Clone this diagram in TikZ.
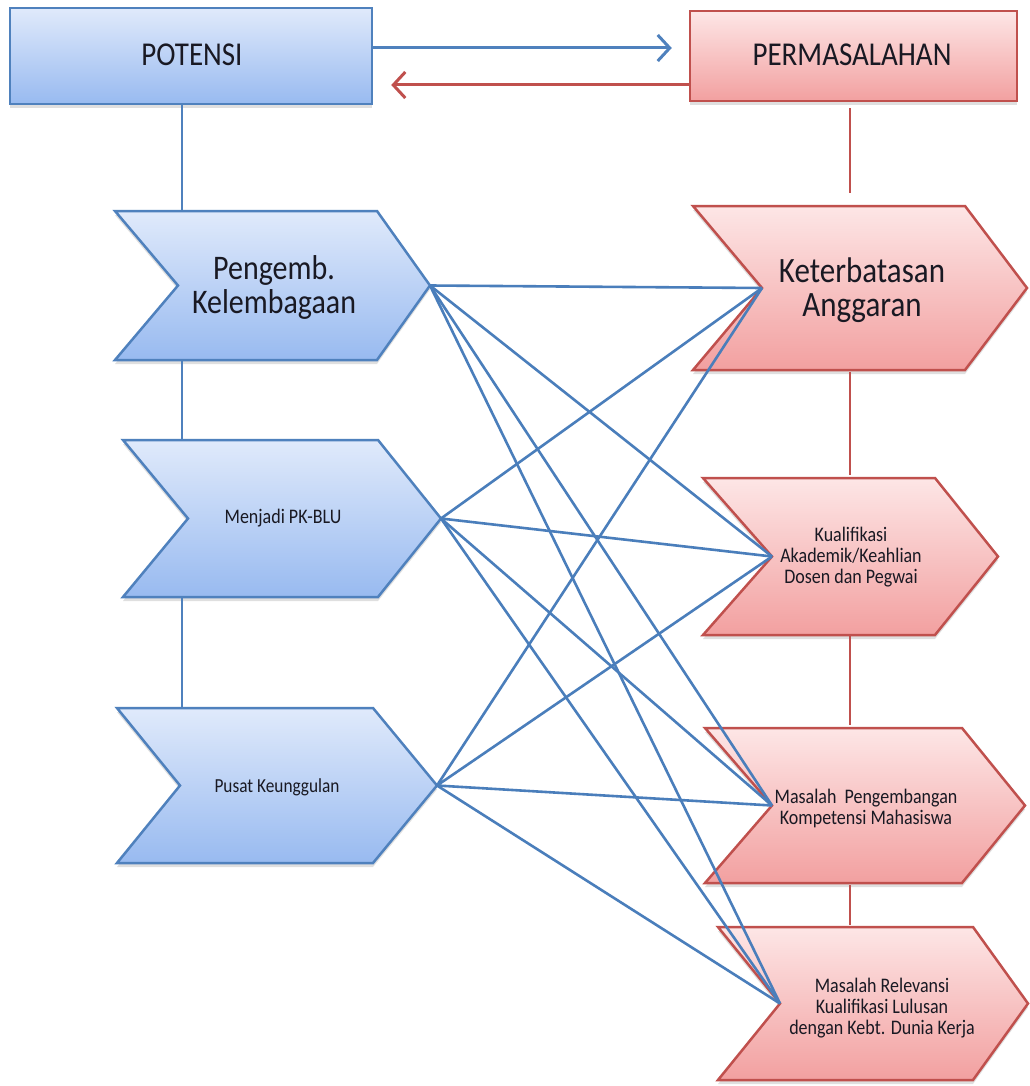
\documentclass[tikz,border=0pt]{standalone}
\usepackage{fontspec}
\setmainfont{Carlito}
\usetikzlibrary{shadows,arrows.meta}
\definecolor{bluebd}{RGB}{79,129,189}
\definecolor{bluetop}{RGB}{224,234,251}
\definecolor{bluebot}{RGB}{152,186,240}
\definecolor{redbd}{RGB}{192,80,77}
\definecolor{redtop}{RGB}{253,230,230}
\definecolor{redbot}{RGB}{242,160,160}
\definecolor{linkblue}{RGB}{74,126,187}
\definecolor{txt}{RGB}{25,25,35}
\newcommand{\tall}[1]{\scalebox{1}[1.15]{#1}}
\tikzset{
  shadowed/.style={drop shadow={shadow xshift=0pt, shadow yshift=-4pt, opacity=0.25}},
  blueshape/.style={draw=bluebd, line width=2.5pt, top color=bluetop, bottom color=bluebot, shadowed},
  redshape/.style={draw=redbd, line width=2.5pt, top color=redtop, bottom color=redbot, shadowed},
  link/.style={draw=linkblue, line width=2.6pt},
  redlink/.style={draw=redbd, line width=2pt},
  bluevert/.style={draw=bluebd, line width=2pt},
  bigtxt/.style={align=center, text=txt, font=\fontsize{30}{34}\selectfont},
  smalltxt/.style={align=center, text=txt, font=\fontsize{18}{21}\selectfont},
  toptxt/.style={align=center, text=txt, font=\fontsize{29}{32}\selectfont},
}
% #1 style, #2 name, #3 left, #4 notch, #5 base, #6 tip, #7 top, #8 bottom
\newcommand{\mychev}[8]{%
  \path[#1] (#3,#7) -- (#5,#7) -- (#6,{(#7+#8)/2}) -- (#5,#8) -- (#3,#8) -- (#4,{(#7+#8)/2}) -- cycle;
  \coordinate (#2-in) at (#4,{(#7+#8)/2});
  \coordinate (#2-out) at (#6,{(#7+#8)/2});
  \coordinate (#2-tl) at (#3,#7);
  \coordinate (#2-bl) at (#3,#8);
}
\begin{document}
\begin{tikzpicture}[x=1pt,y=-1pt]
\useasboundingbox (0,0) rectangle (1029,1086);
\fill[white] (0,0) rectangle (1029,1086);
\coordinate (lx) at (182,0);
\coordinate (rx) at (850,0);

% top boxes
\node[blueshape, rectangle, minimum width=362pt, minimum height=96pt, inner sep=0pt] (pot) at (191,56) {};
\node[redshape, rectangle, minimum width=327pt, minimum height=90pt, inner sep=0pt] (perm) at (853.5,56) {};

% chevrons
\mychev{blueshape}{c1}{115}{178}{377}{430}{211}{360}
\mychev{blueshape}{c2}{123}{188}{378}{441}{440}{597}
\mychev{blueshape}{c3}{117}{180}{373}{437}{708}{863}
\mychev{redshape}{r1}{693}{762}{965}{1027}{206}{370}
\mychev{redshape}{r2}{703}{772}{935}{998}{478}{635}
\mychev{redshape}{r3}{705}{772}{962}{1025}{728}{883}
\mychev{redshape}{r4}{718}{780}{973}{1028}{927}{1080}

% arrows between top boxes
\draw[draw=bluebd, line width=3pt, -{Straight Barb[length=12pt,width=26pt]}]
  ([yshift=8pt]pot.east) -- ([xshift=-17pt,yshift=8pt]perm.west);
\draw[draw=redbd, line width=3pt, -{Straight Barb[length=12pt,width=26pt]}]
  ([yshift=-29pt]perm.west) -- ([xshift=18pt,yshift=-29pt]pot.east);

% vertical blue spine
\draw[bluevert] (lx |- pot.south) -- (lx |- c1-tl);
\draw[bluevert] (lx |- c1-bl) -- (lx |- c2-tl);
\draw[bluevert] (lx |- c2-bl) -- (lx |- c3-tl);

% vertical red spine
\draw[redlink, shorten <=6pt, shorten >=13pt] (rx |- perm.south) -- (rx |- r1-tl);
\draw[redlink, shorten <=2pt, shorten >=3pt] (rx |- r1-bl) -- (rx |- r2-tl);
\draw[redlink, shorten >=3pt] (rx |- r2-bl) -- (rx |- r3-tl);
\draw[redlink, shorten <=2pt, shorten >=2pt] (rx |- r3-bl) -- (rx |- r4-tl);

% connectors
\foreach \a in {c1,c2,c3}{
  \foreach \b in {r1,r2,r3,r4}{
    \draw[link] (\a-out) -- (\b-in);
  }
}

% texts
\node[toptxt] (tpot) at (192,55) {\tall{POTENSI}};
\node[toptxt] (tperm) at (852,55) {\tall{PERMASALAHAN}};
\node[bigtxt] (t1) at (274,287) {\tall{Pengemb.}\\\tall{Kelembagaan}};
\node[smalltxt] (t2) at (283,518) {\tall{Menjadi PK-BLU}};
\node[smalltxt, font=\fontsize{17.3}{21}\selectfont] (t3) at (277,787) {\tall{Pusat Keunggulan}};
\node[bigtxt, font=\fontsize{31}{34}\selectfont] (t4) at (862,290) {\tall{Keterbatasan}\\\tall{Anggaran}};
\node[smalltxt] (t5) at (851,557) {\tall{Kualifikasi}\\\tall{Akademik/Keahlian}\\\tall{Dosen dan Pegwai}};
\node[smalltxt] (t6) at (866,808) {\tall{Masalah\ \ Pengembangan}\\\tall{Kompetensi Mahasiswa}};
\node[smalltxt] (t7) at (882,1008) {\tall{Masalah Relevansi}\\\tall{Kualifikasi Lulusan}\\\tall{dengan Kebt. Dunia Kerja}};
\end{tikzpicture}
\end{document}
